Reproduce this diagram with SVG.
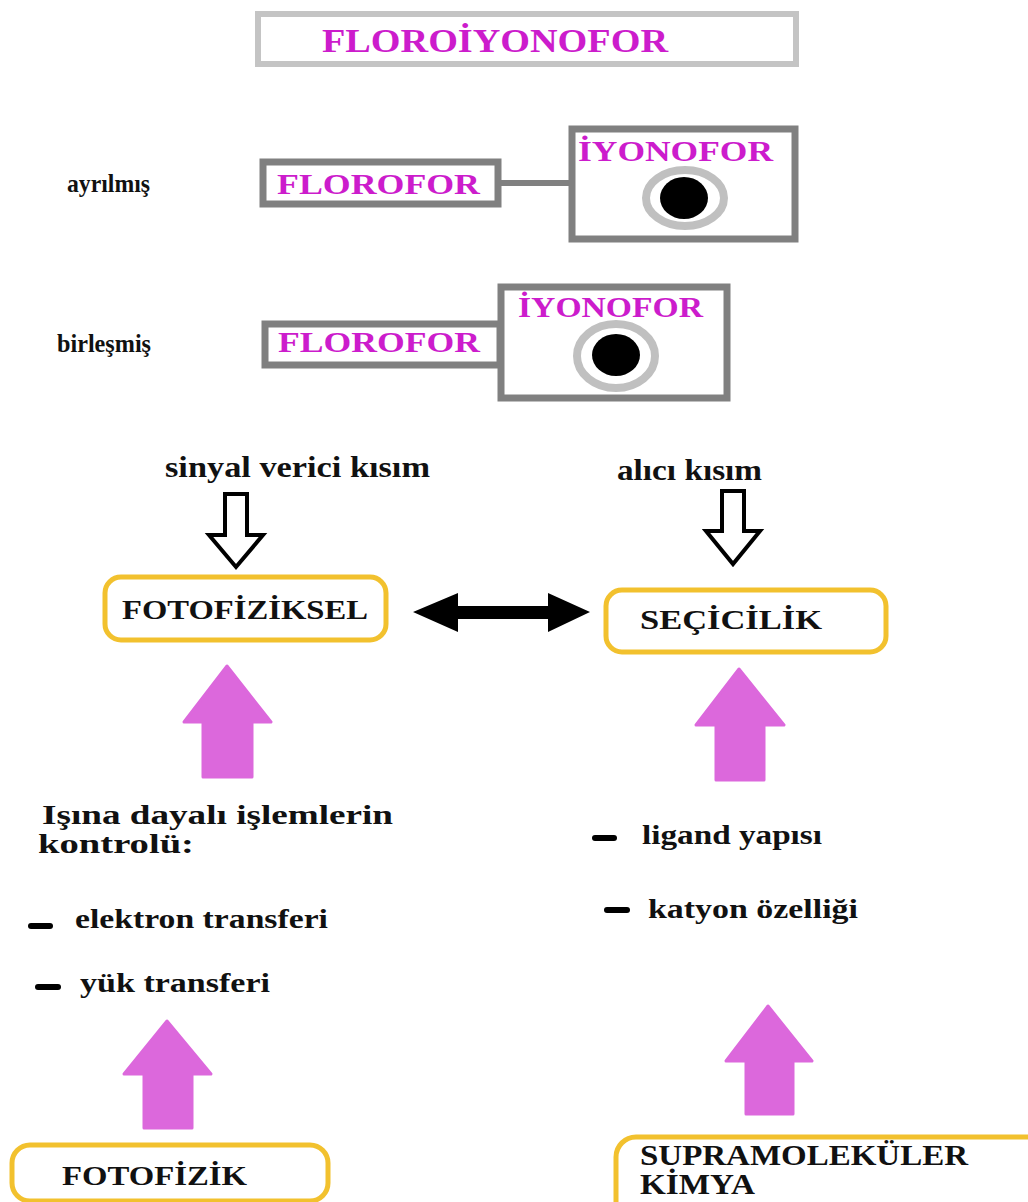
<svg xmlns="http://www.w3.org/2000/svg" width="1028" height="1202" viewBox="0 0 1028 1202">
<style>
.t{font-family:"Liberation Serif","Times New Roman",serif;font-weight:bold;}
.mag{fill:#cc1ccc;}
.blk{fill:#111111;}
.gbox{fill:#ffffff;stroke:#808080;stroke-width:7;}
.ybox{fill:#ffffff;stroke:#f2c12e;stroke-width:5;}
.pink{fill:#dc68dc;stroke:#dc68dc;stroke-width:3;stroke-linejoin:round;}
.hollow{fill:#ffffff;stroke:#000000;stroke-width:4;stroke-linejoin:miter;}
.dash{stroke:#000000;stroke-width:6;stroke-linecap:round;}
.ring{fill:none;stroke:#c0c0c0;stroke-width:8;}
</style>
<rect width="1028" height="1202" fill="#ffffff"/>

<g id="title">
<rect x="258" y="14" width="538" height="50" fill="#ffffff" stroke="#c4c4c4" stroke-width="6"/>
<text class="t mag" x="322" y="52" font-size="33" textLength="346" lengthAdjust="spacingAndGlyphs">FLOROİYONOFOR</text>
</g>

<g id="label-ayrilmis">
<text class="t blk" x="67" y="192" font-size="25" textLength="83" lengthAdjust="spacingAndGlyphs">ayrılmış</text>
</g>
<g id="florofor-1">
<rect class="gbox" x="263" y="162" width="235" height="42"/>
<text class="t mag" x="277" y="194" font-size="30" textLength="203" lengthAdjust="spacingAndGlyphs">FLOROFOR</text>
</g>
<g id="iyonofor-1">
<rect class="gbox" x="572" y="129" width="223" height="110"/>
<text class="t mag" x="578" y="161" font-size="29" textLength="195" lengthAdjust="spacingAndGlyphs">İYONOFOR</text>
<ellipse class="ring" cx="685" cy="198" rx="39" ry="28"/>
<ellipse cx="684" cy="198" rx="24" ry="21" fill="#000000"/>
</g>

<g id="label-birlesmis">
<text class="t blk" x="57" y="352" font-size="25" textLength="94" lengthAdjust="spacingAndGlyphs">birleşmiş</text>
</g>
<g id="florofor-2">
<rect class="gbox" x="265" y="324" width="235" height="41"/>
<text class="t mag" x="278" y="352" font-size="30" textLength="202" lengthAdjust="spacingAndGlyphs">FLOROFOR</text>
</g>
<g id="iyonofor-2">
<rect class="gbox" x="501" y="287" width="226" height="111"/>
<text class="t mag" x="518" y="317" font-size="29" textLength="185" lengthAdjust="spacingAndGlyphs">İYONOFOR</text>
<ellipse class="ring" cx="616" cy="356" rx="39" ry="32"/>
<ellipse cx="616" cy="355" rx="24" ry="21" fill="#000000"/>
</g>

<g id="label-sinyal">
<text class="t blk" x="165" y="477" font-size="29" textLength="265" lengthAdjust="spacingAndGlyphs">sinyal verici kısım</text>
</g>
<g id="label-alici">
<text class="t blk" x="617" y="480" font-size="29" textLength="145" lengthAdjust="spacingAndGlyphs">alıcı kısım</text>
</g>

<g id="fotofiziksel">
<rect class="ybox" x="105" y="577" width="281" height="63" rx="16"/>
<text class="t blk" x="122" y="619" font-size="28" textLength="246" lengthAdjust="spacingAndGlyphs">FOTOFİZİKSEL</text>
</g>
<g id="secicilik">
<rect class="ybox" x="606" y="590" width="280" height="62" rx="16"/>
<text class="t blk" x="640" y="629" font-size="28" textLength="182" lengthAdjust="spacingAndGlyphs">SEÇİCİLİK</text>
</g>

<g id="isina">
<text class="t blk" x="42" y="824" font-size="28" textLength="351" lengthAdjust="spacingAndGlyphs">Işına dayalı işlemlerin</text>
<text class="t blk" x="38" y="853" font-size="28" textLength="156" lengthAdjust="spacingAndGlyphs">kontrolü:</text>
<line class="dash" x1="31" y1="926" x2="50" y2="926"/>
<text class="t blk" x="75" y="928" font-size="28" textLength="253" lengthAdjust="spacingAndGlyphs">elektron transferi</text>
<line class="dash" x1="38" y1="987" x2="58" y2="987"/>
<text class="t blk" x="80" y="992" font-size="28" textLength="190" lengthAdjust="spacingAndGlyphs">yük transferi</text>
</g>

<g id="ligand">
<line class="dash" x1="595" y1="838" x2="614" y2="838"/>
<text class="t blk" x="642" y="844" font-size="28" textLength="180" lengthAdjust="spacingAndGlyphs">ligand yapısı</text>
<line class="dash" x1="607" y1="910" x2="627" y2="910"/>
<text class="t blk" x="648" y="918" font-size="28" textLength="210" lengthAdjust="spacingAndGlyphs">katyon özelliği</text>
</g>

<g id="fotofizik">
<rect class="ybox" x="12" y="1145" width="316" height="56" rx="18"/>
<text class="t blk" x="62" y="1185" font-size="28" textLength="185" lengthAdjust="spacingAndGlyphs">FOTOFİZİK</text>
</g>
<g id="supramolekuler">
<rect class="ybox" x="616" y="1137" width="440" height="90" rx="20"/>
<text class="t blk" x="640" y="1165" font-size="29" textLength="328" lengthAdjust="spacingAndGlyphs">SUPRAMOLEKÜLER</text>
<text class="t blk" x="640" y="1194" font-size="29" textLength="115" lengthAdjust="spacingAndGlyphs">KİMYA</text>
</g>

<g id="connectors">
<rect x="498" y="180" width="74" height="6" fill="#808080"/>
<path class="hollow" d="M225,494 H247 V535 H263 L236,567 L209,535 H225 Z"/>
<path class="hollow" d="M722,491 H744 V531 H760 L733,564 L706,531 H722 Z"/>
<path d="M413,612 L458,593 V606 H548 V593 L590,612 L548,632 V619 H458 V632 Z" fill="#000000"/>
<path class="pink" d="M227,666 L271,722 H252 V777 H203 V722 H184 Z"/>
<path class="pink" d="M739,669 L784,725 H764 V780 H716 V725 H696 Z"/>
<path class="pink" d="M167,1021 L211,1074 H192 V1128 H144 V1074 H124 Z"/>
<path class="pink" d="M768,1006 L812,1061 H793 V1114 H746 V1061 H726 Z"/>
</g>
</svg>
